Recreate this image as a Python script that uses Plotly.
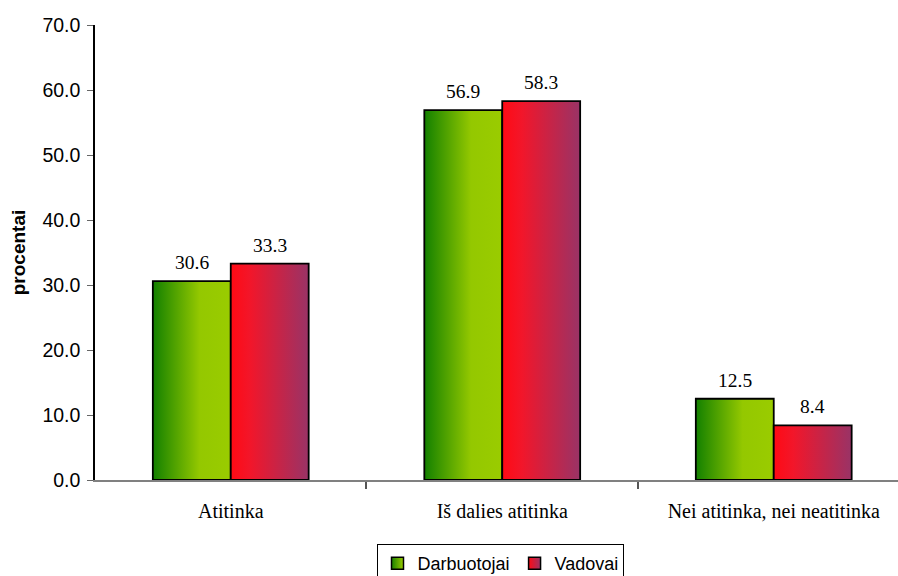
import plotly.graph_objects as go

# Data
categories = ["Atitinka", "Iš dalies atitinka", "Nei atitinka, nei neatitinka"]
series_names = ["Darbuotojai", "Vadovai"]
darbuotojai = [30.6, 56.9, 12.5]
vadovai = [33.3, 58.3, 8.4]
y_ticks = [0, 10, 20, 30, 40, 50, 60, 70]

# Styling
BAR_W = 0.287
gradients = {
    "Darbuotojai": [[0, "#138000"], [0.6, "#94c800"], [1, "#9acc00"]],
    "Vadovai": [[0, "#ff0a14"], [0.25, "#f2162a"], [1, "#993366"]],
}
legend_colors = {
    "Darbuotojai": ("#1a8000", "#9acc00"),
    "Vadovai": ("#ff0a14", "#993366"),
}

fig = go.Figure()

for name, values, side in [(series_names[0], darbuotojai, -1), (series_names[1], vadovai, 1)]:
    for i, v in enumerate(values):
        if side < 0:
            x0, x1 = i - BAR_W, i
        else:
            x0, x1 = i, i + BAR_W
        fig.add_trace(go.Scatter(
            x=[x0, x1, x1, x0, x0],
            y=[0, 0, v, v, 0],
            mode="lines",
            fill="toself",
            fillgradient=dict(type="horizontal", colorscale=gradients[name]),
            line=dict(color="black", width=1.8),
            name=name,
            legendgroup=name,
            showlegend=False,
            hoverinfo="skip",
        ))
        # value label above the bar
        fig.add_annotation(
            x=i + side * BAR_W / 2, y=v,
            text=f"{v:.1f}",
            showarrow=False,
            yanchor="bottom",
            yshift=6,
            font=dict(family="Liberation Serif", size=19.5, color="black"),
        )
    # legend swatch: small square with horizontal gradient
    c0, c1 = legend_colors[name]
    fig.add_trace(go.Scatter(
        x=[None], y=[None],
        mode="markers",
        marker=dict(symbol="square", size=12, color=c0,
                    gradient=dict(type="horizontal", color=c1),
                    line=dict(color="black", width=1.5)),
        name=name,
        legendgroup=name,
        showlegend=True,
    ))

fig.update_layout(
    width=898,
    height=576,
    margin=dict(l=95, r=0, t=25, b=96, autoexpand=False),
    paper_bgcolor="white",
    plot_bgcolor="white",
    font=dict(family="Liberation Sans", size=18, color="black"),
    showlegend=True,
    legend=dict(
        orientation="h",
        x=0.5056, xanchor="center",
        y=-0.1407, yanchor="top",
        bordercolor="black", borderwidth=1,
        font=dict(family="Liberation Sans", size=18),
        itemwidth=30,
        tracegroupgap=0,
    ),
    xaxis=dict(
        range=[-0.5, 2.4577],
        tickvals=[0, 1, 2],
        ticktext=categories,
        ticks="",
        showgrid=False,
        zeroline=False,
        showline=True,
        linecolor="#808080",
        linewidth=2,
        tickfont=dict(family="Liberation Serif", size=20),
        ticklabelstandoff=12,
        minor=dict(tickvals=[0.5, 1.5], ticks="outside", ticklen=7,
                   tickcolor="#555555", tickwidth=2, showgrid=False),
    ),
    yaxis=dict(
        range=[0, 70],
        tickvals=y_ticks,
        tickformat=".1f",
        ticks="outside",
        ticklen=6,
        tickcolor="#666666",
        showgrid=False,
        zeroline=False,
        showline=True,
        linecolor="black",
        linewidth=1.5,
        ticklabelstandoff=3,
        tickfont=dict(family="Liberation Sans", size=19.5),
        title=dict(text="<b>procentai</b>", font=dict(family="Liberation Sans", size=19), standoff=12),
    ),
)

fig.write_html("out.html")
